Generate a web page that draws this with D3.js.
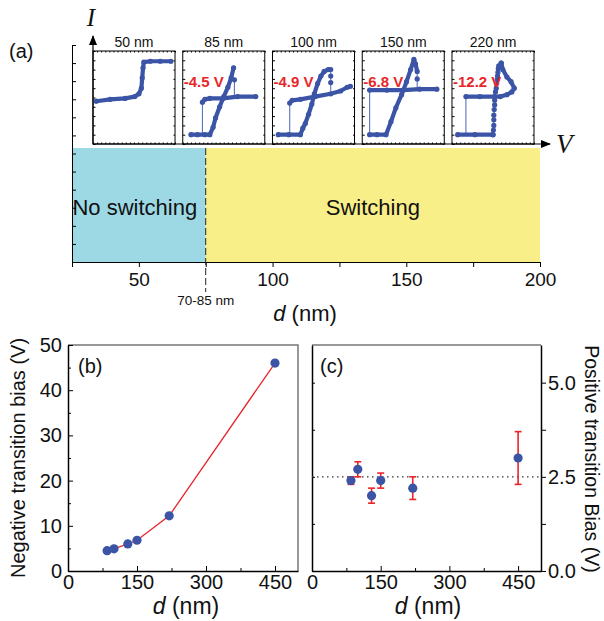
<!DOCTYPE html>
<html lang='en'>
<head>
  <title>Switching vs thickness</title>
  <script src='https://cdn.jsdelivr.net/npm/d3@7'></script>
  <style>
    body { margin: 0; background: #fff; }
    text { font-family: 'Liberation Sans', Arial, sans-serif; fill: #111; }
  </style>
</head>
<body>
  <script>
    // ---- data ----
    // panel (a): thickness axis and regions
    const dTicksA = [25, 50, 75, 100, 125, 150, 175, 200];
    const regionNames = ["No switching", "Switching"];
    const regionFrom = [25, 75];
    const regionTo = [75, 200];
    const regionColors = ["#9dd9e5", "#f8ef88"];
    const boundaryLabel = "70-85 nm";

    // insets: I-V loops, normalized V and I (0..1 of box)
    const insetNames = ["50 nm", "85 nm", "100 nm", "150 nm", "220 nm"];
    const insetBias = ["", "-4.5 V", "-4.9 V", "-6.8 V", "-12.2 V"];
    const ivThick = [
      [[[0.04,0.46],[0.21,0.48],[0.39,0.49],[0.51,0.51],[0.56,0.54],[0.59,0.60],[0.60,0.71],[0.61,0.82],[0.62,0.88],[0.70,0.89],[0.82,0.89],[0.95,0.89]]],
      [[[0.10,0.10],[0.18,0.10],[0.27,0.10],[0.33,0.10],[0.37,0.18],[0.40,0.28],[0.45,0.40],[0.50,0.51],[0.55,0.61],[0.59,0.71],[0.62,0.82]],
       [[0.24,0.45],[0.27,0.48],[0.33,0.49],[0.49,0.49],[0.67,0.51],[0.89,0.51]]],
      [[[0.07,0.10],[0.20,0.10],[0.34,0.10],[0.37,0.17],[0.40,0.22],[0.44,0.32],[0.48,0.43],[0.51,0.54],[0.55,0.65],[0.59,0.73],[0.63,0.78],[0.68,0.80],[0.71,0.80]],
       [[0.21,0.44],[0.24,0.47],[0.34,0.48],[0.52,0.51],[0.71,0.54],[0.83,0.57],[0.91,0.61],[0.95,0.62]]],
      [[[0.09,0.10],[0.18,0.10],[0.29,0.10],[0.35,0.24],[0.41,0.39],[0.48,0.53],[0.54,0.67],[0.59,0.80],[0.63,0.91],[0.65,0.86],[0.67,0.78]],
       [[0.09,0.58],[0.30,0.58],[0.50,0.58],[0.70,0.59],[0.91,0.59]]],
      [[[0.07,0.10],[0.28,0.10],[0.50,0.10]],
       [[0.17,0.51],[0.34,0.51],[0.59,0.51],[0.67,0.53],[0.73,0.56],[0.76,0.60],[0.72,0.67],[0.67,0.72],[0.62,0.80],[0.60,0.87]]]
    ];
    const ivThin = [
      [],
      [[[0.24,0.10],[0.24,0.45]], [[0.63,0.71],[0.63,0.49]]],
      [[[0.21,0.10],[0.21,0.44]], [[0.71,0.80],[0.71,0.57]]],
      [[[0.09,0.10],[0.09,0.58]], [[0.67,0.78],[0.67,0.59]]],
      [[[0.17,0.10],[0.17,0.51]]]
    ];
    // sparse measured points on jumps
    const ivDots = [
      [], [[0.63,0.69]], [[0.71,0.73],[0.71,0.66]], [[0.67,0.70]],
      [[0.50,0.10],[0.505,0.15],[0.51,0.20],[0.51,0.26],[0.51,0.31],[0.515,0.37],[0.52,0.42],[0.52,0.47],[0.52,0.51],[0.53,0.56],[0.54,0.60],[0.545,0.65],[0.55,0.69],[0.555,0.73],[0.56,0.77],[0.565,0.81],[0.57,0.84],[0.60,0.87]]
    ];

    // panels (b), (c)
    const thickness = [85, 100, 130, 150, 220, 450];
    const negBias = [4.5, 4.9, 6.0, 6.8, 12.2, 46.0];
    const posBias = [2.4, 2.7, 2.0, 2.4, 2.2, 3.0];
    const posLow = [2.3, 2.5, 1.8, 2.2, 1.9, 2.3];
    const posHigh = [2.5, 2.9, 2.2, 2.6, 2.5, 3.7];
    const dTicksB = [0, 150, 300, 450];
    const dMinorB = [75, 225, 375];
    const negTicks = [0, 10, 20, 30, 40, 50];
    const negMinor = [5, 15, 25, 35, 45];
    const posTicks = [0, 2.5, 5.0];
    const posMinor = [1.25, 3.75];
    const posRef = 2.5;

    const blue = "#3b54a6", red = "#e8262a";

    const svg = d3.select("body").append("svg")
      .attr("width", 604).attr("height", 621);

    // arrow marker
    svg.append("defs").append("marker")
      .attr("id", "arr").attr("viewBox", "0 0 10 10")
      .attr("refX", 9).attr("refY", 5)
      .attr("markerWidth", 10).attr("markerHeight", 10)
      .attr("markerUnits", "userSpaceOnUse")
      .attr("orient", "auto")
      .append("path").attr("d", "M0,1 L10,5 L0,9 Z").attr("fill", "#000");

    // ---------- panel (a) ----------
    let xA = d3.scaleLinear().domain([25, 200]).range([72, 540]);
    let bandTop = 148, bandBot = 262;

    svg.selectAll(".region").data(regionNames).join("rect")
      .attr("x", (d, i) => xA(regionFrom[i]))
      .attr("y", bandTop)
      .attr("width", (d, i) => xA(regionTo[i]) - xA(regionFrom[i]))
      .attr("height", bandBot - bandTop)
      .attr("fill", (d, i) => regionColors[i]);
    svg.selectAll(".regionLabel").data(regionNames).join("text")
      .attr("x", (d, i) => xA((regionFrom[i] + regionTo[i]) / 2) - (i === 0 ? 4 : 0))
      .attr("y", 215)
      .attr("text-anchor", "middle")
      .style("font-size", "22px")
      .text(d => d);

    // bottom axis of (a)
    svg.append("g")
      .attr("transform", `translate(0,${bandBot})`)
      .call(d3.axisBottom(xA).tickValues(dTicksA)
        .tickFormat(d => d % 50 === 0 ? d : "").tickSize(5).tickSizeOuter(0).tickPadding(6))
      .call(g => g.selectAll("text").style("font-size", "19px").attr("fill", "#111"));

    // left axis of (a)
    let yA = d3.scaleLinear().domain([0, 12]).range([bandBot, 45]);
    svg.append("g")
      .attr("transform", `translate(${xA(25)},0)`)
      .call(d3.axisRight(yA).ticks(12).tickFormat("").tickSize(4).tickSizeOuter(0));

    // boundary
    svg.append("line")
      .attr("x1", xA(regionTo[0])).attr("x2", xA(regionTo[0]))
      .attr("y1", bandTop).attr("y2", 292)
      .attr("stroke", "#222").attr("stroke-dasharray", "7,3");
    svg.append("text").attr("x", xA(regionTo[0])).attr("y", 305)
      .attr("text-anchor", "middle").style("font-size", "13.5px").attr("fill", "#333")
      .text(boundaryLabel);

    let dLabelA = svg.append("text").attr("x", 305).attr("y", 321)
      .attr("text-anchor", "middle").style("font-size", "22px");
    dLabelA.append("tspan").style("font-style", "italic").text("d");
    dLabelA.append("tspan").text(" (nm)");

    svg.append("text").attr("x", 9).attr("y", 58).style("font-size", "20px").text("(a)");

    // insets
    let insetX = d3.scaleBand().domain(insetNames).range([93, 534]).paddingInner(0.086);
    let bw = insetX.bandwidth(), bh = 93, insetTop = 51;
    let ix = d3.scaleLinear().domain([0, 1]).range([0, bw]);
    let iy = d3.scaleLinear().domain([0, 1]).range([bh, 0]);
    let line = d3.line().x(d => ix(d[0])).y(d => iy(d[1]));

    let insets = svg.selectAll(".inset").data(insetNames).join("g")
      .attr("transform", d => `translate(${insetX(d)},${insetTop})`);
    insets.append("rect").attr("width", bw).attr("height", bh)
      .attr("fill", "#fff").attr("stroke", "#000").attr("stroke-width", 1);
    // small inner ticks
    insets.append("g").attr("transform", `translate(0,${bh})`)
      .call(d3.axisTop(ix).ticks(20).tickFormat("").tickSize(1.5).tickSizeOuter(0))
      .call(g => g.select(".domain").remove());
    insets.append("g")
      .call(d3.axisBottom(ix).ticks(20).tickFormat("").tickSize(1.5).tickSizeOuter(0))
      .call(g => g.select(".domain").remove());
    insets.append("g")
      .call(d3.axisRight(iy).ticks(10).tickFormat("").tickSize(2.5).tickSizeOuter(0))
      .call(g => g.select(".domain").remove());
    insets.append("g").attr("transform", `translate(${bw},0)`)
      .call(d3.axisLeft(iy).ticks(10).tickFormat("").tickSize(1.5).tickSizeOuter(0))
      .call(g => g.select(".domain").remove());

    insets.append("text").attr("x", bw / 2).attr("y", -4)
      .attr("text-anchor", "middle").style("font-size", "14px")
      .text(d => d);

    insets.each(function (name, k) {
      let g = d3.select(this);
      g.selectAll(".thin").data(ivThin[k]).join("path")
        .attr("d", line).attr("fill", "none")
        .attr("stroke", "#5a72bb").attr("stroke-width", 1.1);
      if (ivDots[k].length > 2) {
        g.append("path").datum(ivDots[k]).attr("d", line).attr("fill", "none")
          .attr("stroke", "#5a72bb").attr("stroke-width", 1.1);
      }
      g.selectAll(".thick").data(ivThick[k]).join("path")
        .attr("d", line).attr("fill", "none")
        .attr("stroke", blue).attr("stroke-width", 4.2)
        .attr("stroke-linecap", "round").attr("stroke-linejoin", "round");
      g.selectAll(".pt").data(ivThick[k].flat().concat(ivDots[k])).join("circle")
        .attr("cx", d => ix(d[0])).attr("cy", d => iy(d[1]))
        .attr("r", 2.6).attr("fill", blue);
      g.append("text").attr("x", 1).attr("y", 36)
        .attr("fill", red).style("fill", red)
        .style("font-size", "15px").style("font-weight", "bold")
        .text(insetBias[k]);
    });

    // I and V arrows
    let ax0 = insetX(insetNames[0]);
    svg.append("line").attr("x1", ax0).attr("x2", ax0)
      .attr("y1", insetTop + bh).attr("y2", 36)
      .attr("stroke", "#000").attr("stroke-width", 1.2).attr("marker-end", "url(#arr)");
    svg.append("line").attr("x1", ax0).attr("x2", 550)
      .attr("y1", insetTop + bh).attr("y2", insetTop + bh)
      .attr("stroke", "#000").attr("stroke-width", 1.2).attr("marker-end", "url(#arr)");
    svg.append("text").attr("x", ax0 - 2).attr("y", 26).attr("text-anchor", "middle")
      .style("font-family", "'Liberation Serif', serif").style("font-style", "italic")
      .style("font-size", "25px").text("I");
    svg.append("text").attr("x", 556).attr("y", 153)
      .style("font-family", "'Liberation Serif', serif").style("font-style", "italic")
      .style("font-size", "27px").text("V");

    // ---------- panel (b) ----------
    let plotTop = 345, plotBot = 571;
    let xB = d3.scaleLinear().domain([0, 500]).range([68, 298]);
    let yB = d3.scaleLinear().domain([0, 50]).range([plotBot, plotTop]);

    // gray top and right frame of (b)
    svg.append("path")
      .attr("d", `M${xB(0)},${plotTop} H${xB(500)} V${plotBot}`)
      .attr("fill", "none").attr("stroke", "#777").attr("stroke-width", 1.5);

    function bottomAxis(x) {
      svg.append("g").attr("transform", `translate(0,${plotBot})`)
        .call(d3.axisBottom(x).tickValues(dTicksB).tickSize(-5).tickSizeOuter(0).tickPadding(4))
        .call(g => g.selectAll("text").style("font-size", "20px").attr("fill", "#111"))
        .call(g => g.select(".domain").attr("stroke-width", 1.5));
      svg.append("g").attr("transform", `translate(0,${plotBot})`)
        .call(d3.axisBottom(x).tickValues(dMinorB).tickFormat("").tickSize(-3).tickSizeOuter(0))
        .call(g => g.select(".domain").remove());
    }
    bottomAxis(xB);

    svg.append("g").attr("transform", `translate(${xB(0)},0)`)
      .call(d3.axisLeft(yB).tickValues(negTicks).tickSize(-5).tickSizeOuter(0).tickPadding(6))
      .call(g => g.selectAll("text").style("font-size", "20px").attr("fill", "#111"))
      .call(g => g.select(".domain").attr("stroke-width", 1.5));
    svg.append("g").attr("transform", `translate(${xB(0)},0)`)
      .call(d3.axisLeft(yB).tickValues(negMinor).tickFormat("").tickSize(-3).tickSizeOuter(0))
      .call(g => g.select(".domain").remove());

    let bPts = thickness.map((d, i) => [d, negBias[i]]);
    svg.append("path").datum(bPts)
      .attr("d", d3.line().x(d => xB(d[0])).y(d => yB(d[1])))
      .attr("fill", "none").attr("stroke", red).attr("stroke-width", 1.3);
    svg.selectAll(".bpt").data(bPts).join("circle")
      .attr("cx", d => xB(d[0])).attr("cy", d => yB(d[1]))
      .attr("r", 4.6).attr("fill", blue);

    svg.append("text").attr("x", 78).attr("y", 373).style("font-size", "20px").text("(b)");
    svg.append("text").attr("transform", "translate(25,458) rotate(-90)")
      .attr("text-anchor", "middle").style("font-size", "20px")
      .text("Negative transition bias (V)");
    let dLabelB = svg.append("text").attr("x", 186).attr("y", 614)
      .attr("text-anchor", "middle").style("font-size", "23px");
    dLabelB.append("tspan").style("font-style", "italic").text("d");
    dLabelB.append("tspan").text(" (nm)");

    // ---------- panel (c) ----------
    let xC = d3.scaleLinear().domain([0, 500]).range([312, 541]);
    let yC = d3.scaleLinear().domain([0, 6]).range([plotBot, plotTop]);

    svg.append("line").attr("x1", xC(0)).attr("x2", xC(500)).attr("y1", plotTop).attr("y2", plotTop)
      .attr("stroke", "#777").attr("stroke-width", 1.5);
    bottomAxis(xC);

    svg.append("g").attr("transform", `translate(${xC(0)},0)`)
      .call(d3.axisRight(yC).tickValues(posMinor.concat(posTicks)).tickFormat("").tickSize(3).tickSizeOuter(0))
      .call(g => g.select(".domain").attr("stroke-width", 1.5));
    svg.append("g").attr("transform", `translate(${xC(500)},0)`)
      .call(d3.axisRight(yC).tickValues(posTicks).tickFormat(d3.format(".1f")).tickSize(5).tickSizeOuter(0).tickPadding(2))
      .call(g => g.selectAll("text").style("font-size", "20px").attr("fill", "#111"))
      .call(g => g.select(".domain").attr("stroke-width", 1.5));
    svg.append("g").attr("transform", `translate(${xC(500)},0)`)
      .call(d3.axisRight(yC).tickValues(posMinor).tickFormat("").tickSize(5).tickSizeOuter(0))
      .call(g => g.select(".domain").remove());

    svg.append("line").attr("x1", xC(0)).attr("x2", xC(500))
      .attr("y1", yC(posRef)).attr("y2", yC(posRef))
      .attr("stroke", "#333").attr("stroke-width", 1.1).attr("stroke-dasharray", "1.5,3.5");

    let cData = thickness.map((d, i) => ({ d: d, v: posBias[i], lo: posLow[i], hi: posHigh[i] }));
    let eb = svg.selectAll(".eb").data(cData).join("g").attr("stroke", red).attr("stroke-width", 1.6);
    eb.append("line").attr("x1", d => xC(d.d)).attr("x2", d => xC(d.d))
      .attr("y1", d => yC(d.lo)).attr("y2", d => yC(d.hi));
    eb.append("line").attr("x1", d => xC(d.d) - 3.5).attr("x2", d => xC(d.d) + 3.5)
      .attr("y1", d => yC(d.lo)).attr("y2", d => yC(d.lo));
    eb.append("line").attr("x1", d => xC(d.d) - 3.5).attr("x2", d => xC(d.d) + 3.5)
      .attr("y1", d => yC(d.hi)).attr("y2", d => yC(d.hi));
    svg.selectAll(".cpt").data(cData).join("circle")
      .attr("cx", d => xC(d.d)).attr("cy", d => yC(d.v))
      .attr("r", 4.6).attr("fill", blue);

    svg.append("text").attr("x", 320).attr("y", 373).style("font-size", "20px").text("(c)");
    svg.append("text").attr("transform", "translate(585,459) rotate(90)")
      .attr("text-anchor", "middle").style("font-size", "19.5px")
      .text("Positive transition Bias (V)");
    let dLabelC = svg.append("text").attr("x", 428).attr("y", 614)
      .attr("text-anchor", "middle").style("font-size", "23px");
    dLabelC.append("tspan").style("font-style", "italic").text("d");
    dLabelC.append("tspan").text(" (nm)");
  </script>
</body>
</html>
